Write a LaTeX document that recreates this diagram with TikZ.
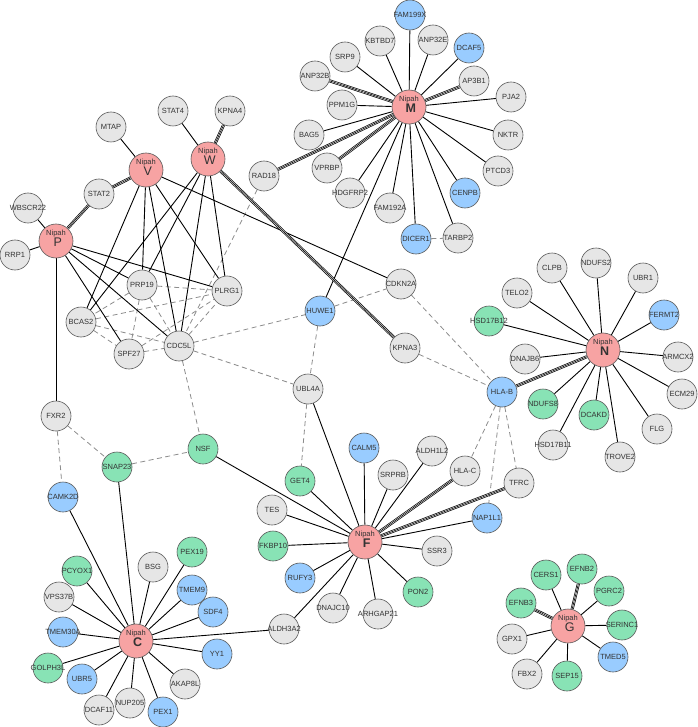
\documentclass[tikz,border=0pt]{standalone}
\usepackage{fontspec}
\setmainfont{Liberation Sans}
\usetikzlibrary{backgrounds}
\definecolor{ngray}{HTML}{E6E6E6}
\definecolor{nblue}{HTML}{99CCFF}
\definecolor{ngreen}{HTML}{88E3B5}
\definecolor{npink}{HTML}{F7A3A3}
\newcommand\mb[1]{\makebox[0pt][c]{#1}}
\newcommand\nipahlab[2]{\raisebox{5.5pt}[0pt][0pt]{\mb{Nipah}}\llap{\raisebox{-5.5pt}[0pt][0pt]{\mb{\fontsize{12.5}{13}\selectfont#1 #2}}}}
\tikzset{
 base/.style={circle, draw=black!65, line width=0.6pt, minimum size=30pt, inner sep=0pt, font=\fontsize{7.5}{8}\selectfont, text=black!80},
 gnode/.style={base, fill=ngray},
 bnode/.style={base, fill=nblue},
 cnode/.style={base, fill=ngreen},
 vnode/.style={base, fill=npink, minimum size=34pt},
 sol/.style={draw=black, line width=0.9pt},
 dsh/.style={draw=black!45, line width=0.8pt, dash pattern=on 5pt off 3.5pt},
 tri/.style={draw=black, line width=3pt, postaction={draw=white, line width=1.6pt}, postaction={draw=black, line width=0.6pt}},
}
\begin{document}
\begin{tikzpicture}[x=1pt,y=-1pt]
\useasboundingbox (0,0) rectangle (697,727);
% P / V / W region
\node[gnode] (MTAP) at (111,127) {\mb{MTAP}};
\node[gnode] (STAT4) at (173,111) {\mb{STAT4}};
\node[gnode] (KPNA4) at (230,111) {\mb{KPNA4}};
\node[vnode] (V) at (146,170) {\nipahlab{}{V}};
\node[vnode] (W) at (208,159) {\nipahlab{}{W}};
\node[gnode] (RAD18) at (264,176) {\mb{RAD18}};
\node[gnode] (STAT2) at (99,194) {\mb{STAT2}};
\node[gnode] (WBSCR22) at (28,208) {\mb{WBSCR22}};
\node[vnode] (P) at (56,241) {\nipahlab{}{P}};
\node[gnode] (RRP1) at (15,255) {\mb{RRP1}};
\node[gnode] (PRP19) at (142,285) {\mb{PRP19}};
\node[gnode] (PLRG1) at (227,291) {\mb{PLRG1}};
\node[gnode] (BCAS2) at (81,322) {\mb{BCAS2}};
\node[gnode] (CDC5L) at (179,346) {\mb{CDC5L}};
\node[gnode] (SPF27) at (129,354) {\mb{SPF27}};
\node[gnode] (FXR2) at (56,416) {\mb{FXR2}};
\node[cnode] (NSF) at (203,449) {\mb{NSF}};
\node[cnode] (SNAP23) at (117,467) {\mb{SNAP23}};
\node[bnode] (CAMK2D) at (63,497) {\mb{CAMK2D}};
% C region
\node[cnode] (PCYOX1) at (77,571) {\mb{PCYOX1}};
\node[gnode] (BSG) at (153,567) {\mb{BSG}};
\node[cnode] (PEX19) at (192,552) {\mb{PEX19}};
\node[gnode] (VPS37B) at (59,597) {\mb{VPS37B}};
\node[bnode] (TMEM9) at (192,590) {\mb{TMEM9}};
\node[bnode] (SDF4) at (213,612) {\mb{SDF4}};
\node[bnode] (TMEM30A) at (63,632) {\mb{TMEM30A}};
\node[vnode] (C) at (136,641) {\nipahlab{\bfseries}{C}};
\node[gnode] (ALDH3A2) at (284,629) {\mb{ALDH3A2}};
\node[bnode] (YY1) at (217,654) {\mb{YY1}};
\node[cnode] (GOLPH3L) at (48,668) {\mb{GOLPH3L}};
\node[bnode] (UBR5) at (82,679) {\mb{UBR5}};
\node[gnode] (AKAP8L) at (185,684) {\mb{AKAP8L}};
\node[gnode] (DCAF11) at (99,710) {\mb{DCAF11}};
\node[gnode] (NUP205) at (130,703) {\mb{NUP205}};
\node[bnode] (PEX1) at (163,712) {\mb{PEX1}};
% M region
\node[bnode] (FAM199X) at (410,15) {\mb{FAM199X}};
\node[gnode] (KBTBD7) at (380,41) {\mb{KBTBD7}};
\node[gnode] (SRP9) at (345,57) {\mb{SRP9}};
\node[gnode] (ANP32B) at (315,76) {\mb{ANP32B}};
\node[gnode] (PPM1G) at (342,105) {\mb{PPM1G}};
\node[vnode] (M) at (409,107) {\nipahlab{\bfseries}{M}};
\node[gnode] (BAG5) at (309,135) {\mb{BAG5}};
\node[gnode] (VPRBP) at (327,168) {\mb{VPRBP}};
\node[gnode] (HDGFRP2) at (350,193) {\mb{HDGFRP2}};
\node[gnode] (FAM192A) at (390,208) {\mb{FAM192A}};
\node[bnode] (DICER1) at (416,239) {\mb{DICER1}};
\node[gnode] (ANP32E) at (433,40) {\mb{ANP32E}};
\node[bnode] (DCAF5) at (469,48) {\mb{DCAF5}};
\node[gnode] (AP3B1) at (474,81) {\mb{AP3B1}};
\node[gnode] (PJA2) at (511,97) {\mb{PJA2}};
\node[gnode] (NKTR) at (508,135) {\mb{NKTR}};
\node[gnode] (PTCD3) at (498,171) {\mb{PTCD3}};
\node[bnode] (CENPB) at (465,193) {\mb{CENPB}};
\node[gnode] (TARBP2) at (458,238) {\mb{TARBP2}};
% middle
\node[gnode] (CDKN2A) at (401,284) {\mb{CDKN2A}};
\node[bnode] (HUWE1) at (320,311) {\mb{HUWE1}};
\node[gnode] (KPNA3) at (405,348) {\mb{KPNA3}};
\node[gnode] (UBL4A) at (308,389) {\mb{UBL4A}};
% N region
\node[gnode] (CLPB) at (552,268) {\mb{CLPB}};
\node[gnode] (NDUFS2) at (596,263) {\mb{NDUFS2}};
\node[gnode] (UBR1) at (643,278) {\mb{UBR1}};
\node[gnode] (TELO2) at (517,293) {\mb{TELO2}};
\node[bnode] (FERMT2) at (664,315) {\mb{FERMT2}};
\node[cnode] (HSD17B12) at (489,321) {\mb{HSD17B12}};
\node[vnode] (N) at (603,350) {\nipahlab{\bfseries}{N}};
\node[gnode] (DNAJB6) at (525,359) {\mb{DNAJB6}};
\node[gnode] (ARMCX2) at (678,357) {\mb{ARMCX2}};
\node[bnode] (HLAB) at (502,392) {\mb{HLA-B}};
\node[cnode] (NDUFS8) at (543,404) {\mb{NDUFS8}};
\node[gnode] (ECM29) at (682,394) {\mb{ECM29}};
\node[cnode] (DCAKD) at (594,415) {\mb{DCAKD}};
\node[gnode] (FLG) at (657,429) {\mb{FLG}};
\node[gnode] (HSD17B11) at (553,445) {\mb{HSD17B11}};
\node[gnode] (TROVE2) at (620,457) {\mb{TROVE2}};
% F region
\node[bnode] (CALM5) at (364,448) {\mb{CALM5}};
\node[gnode] (ALDH1L2) at (432,451) {\mb{ALDH1L2}};
\node[gnode] (SRPRB) at (393,475) {\mb{SRPRB}};
\node[gnode] (HLAC) at (465,471) {\mb{HLA-C}};
\node[cnode] (GET4) at (300,481) {\mb{GET4}};
\node[gnode] (TES) at (272,510) {\mb{TES}};
\node[vnode] (F) at (365,542) {\nipahlab{\bfseries}{F}};
\node[gnode] (TFRC) at (519,483) {\mb{TFRC}};
\node[bnode] (NAP1L1) at (487,518) {\mb{NAP1L1}};
\node[cnode] (FKBP10) at (273,546) {\mb{FKBP10}};
\node[gnode] (SSR3) at (437,551) {\mb{SSR3}};
\node[bnode] (RUFY3) at (300,578) {\mb{RUFY3}};
\node[cnode] (PON2) at (418,592) {\mb{PON2}};
\node[gnode] (DNAJC10) at (333,608) {\mb{DNAJC10}};
\node[gnode] (ARHGAP21) at (378,614) {\mb{ARHGAP21}};
% G region
\node[cnode] (CERS1) at (546,575) {\mb{CERS1}};
\node[cnode] (EFNB2) at (582,569) {\mb{EFNB2}};
\node[cnode] (PGRC2) at (609,591) {\mb{PGRC2}};
\node[cnode] (EFNB3) at (521,603) {\mb{EFNB3}};
\node[vnode] (G) at (568,626) {\nipahlab{}{G}};
\node[cnode] (SERINC1) at (622,625) {\mb{SERINC1}};
\node[gnode] (GPX1) at (512,639) {\mb{GPX1}};
\node[bnode] (TMED5) at (613,657) {\mb{TMED5}};
\node[gnode] (FBX2) at (527,674) {\mb{FBX2}};
\node[cnode] (SEP15) at (567,676) {\mb{SEP15}};

\begin{scope}[on background layer]
% dashed interactions
\foreach \a/\b in {PRP19/PLRG1, PRP19/BCAS2, PRP19/SPF27, PRP19/CDC5L, BCAS2/PLRG1, BCAS2/CDC5L, BCAS2/SPF27, SPF27/PLRG1, SPF27/CDC5L, CDC5L/PLRG1,
  RAD18/CDC5L, CDC5L/HUWE1, CDC5L/UBL4A, CDC5L/NSF, HUWE1/CDKN2A, HUWE1/UBL4A, CDKN2A/HLAB, KPNA3/HLAB, DICER1/TARBP2,
  FXR2/SNAP23, FXR2/CAMK2D, SNAP23/NSF, UBL4A/GET4, HLAB/HLAC, HLAB/NAP1L1, HLAB/TFRC}
  \draw[dsh] (\a) -- (\b);
% solid interactions
\foreach \a/\b in {P/WBSCR22, P/RRP1, P/PRP19, P/PLRG1, P/SPF27, P/CDC5L, P/FXR2,
  V/MTAP, V/PRP19, V/CDC5L, V/PLRG1, V/BCAS2, V/CDKN2A,
  W/STAT4, W/BCAS2, W/PRP19, W/CDC5L, W/PLRG1,
  M/FAM199X, M/KBTBD7, M/SRP9, M/PPM1G, M/BAG5, M/HDGFRP2, M/FAM192A, M/DICER1, M/TARBP2, M/CENPB, M/PTCD3, M/NKTR, M/PJA2, M/DCAF5, M/ANP32E, M/HUWE1,
  N/CLPB, N/NDUFS2, N/UBR1, N/TELO2, N/FERMT2, N/HSD17B12, N/DNAJB6, N/ARMCX2, N/NDUFS8, N/ECM29, N/DCAKD, N/FLG, N/HSD17B11, N/TROVE2,
  F/GET4, F/CALM5, F/TES, F/FKBP10, F/RUFY3, F/ALDH3A2, F/DNAJC10, F/ARHGAP21, F/PON2, F/SSR3, F/NAP1L1, F/ALDH1L2, F/SRPRB, F/UBL4A, F/NSF,
  C/PCYOX1, C/BSG, C/PEX19, C/VPS37B, C/TMEM9, C/SDF4, C/TMEM30A, C/ALDH3A2, C/YY1, C/GOLPH3L, C/UBR5, C/AKAP8L, C/DCAF11, C/NUP205, C/PEX1, C/SNAP23, C/CAMK2D,
  G/CERS1, G/PGRC2, G/SERINC1, G/GPX1, G/TMED5, G/FBX2, G/SEP15}
  \draw[sol] (\a) -- (\b);
% multiple-evidence interactions
\foreach \a/\b in {P/STAT2, V/STAT2, W/KPNA4, W/KPNA3, M/ANP32B, M/RAD18, M/VPRBP, M/AP3B1, N/HLAB, F/HLAC, F/TFRC, G/EFNB2, G/EFNB3}
  \draw[tri] (\a) -- (\b);
\end{scope}
\end{tikzpicture}
\end{document}
